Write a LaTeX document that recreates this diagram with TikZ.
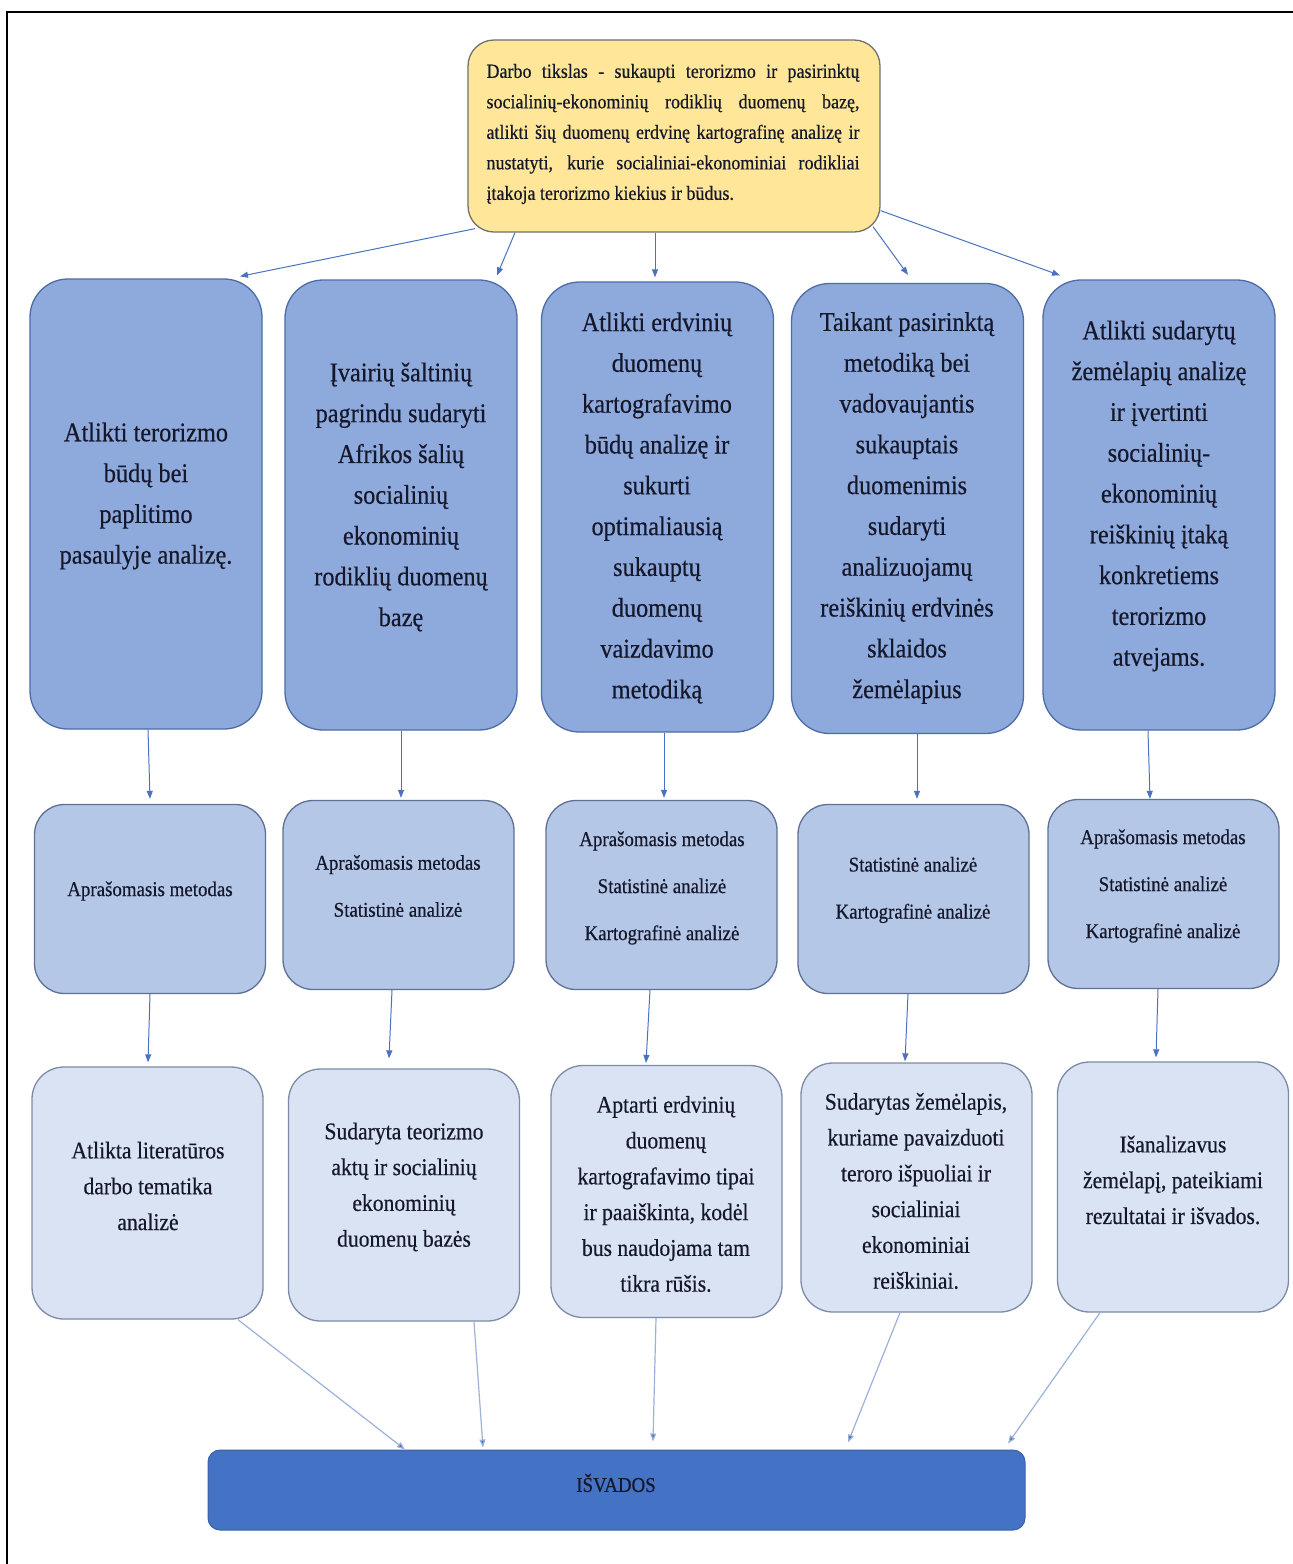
\documentclass[tikz,border=0pt]{standalone}
\usepackage{fontspec}
\setmainfont{Liberation Serif}[FakeStretch=0.9,FakeBold=0.4]
\usetikzlibrary{arrows.meta}
\definecolor{topfill}{HTML}{FFE699}
\definecolor{topdraw}{HTML}{707070}
\definecolor{onefill}{HTML}{8EA9DB}
\definecolor{onedraw}{HTML}{4E6CA8}
\definecolor{twofill}{HTML}{B4C7E7}
\definecolor{twodraw}{HTML}{5E7096}
\definecolor{threefill}{HTML}{DAE3F3}
\definecolor{threedraw}{HTML}{7E8BA7}
\definecolor{endfill}{HTML}{4472C4}
\definecolor{arrowc}{HTML}{4A72C0}
\definecolor{lightarrow}{HTML}{9DB1DA}
\definecolor{inkc}{HTML}{15172A}
\begin{document}
\begin{tikzpicture}[x=1pt,y=-1pt,
  goalbox/.style={draw=topdraw, fill=topfill, line width=1.3pt, rounded corners=26pt, minimum width=412pt, minimum height=192pt, inner sep=0pt},
  onebox/.style={draw=onedraw, fill=onefill, line width=1.3pt, rounded corners=38pt, minimum width=232pt, minimum height=450pt, inner sep=0pt},
  twobox/.style={draw=twodraw, fill=twofill, line width=1.3pt, rounded corners=30pt, minimum width=231pt, minimum height=189pt, inner sep=0pt},
  threebox/.style={draw=threedraw, fill=threefill, line width=1.3pt, rounded corners=32pt, minimum width=231pt, minimum height=252pt, inner sep=0pt},
  endbox/.style={draw=endfill!85!black, fill=endfill, line width=1pt, rounded corners=12pt, minimum width=817pt, minimum height=80pt, inner sep=0pt},
  onetext/.style={align=center, text=inkc, font=\fontsize{27}{40.8}\selectfont, inner sep=0pt},
  twotext/.style={align=center, text=inkc, font=\fontsize{21}{47}\selectfont, inner sep=0pt},
  threetext/.style={align=center, text=inkc, font=\fontsize{24}{35.8}\selectfont, inner sep=0pt},
  arr/.style={draw=arrowc, line width=1pt, -{Triangle[length=8pt,width=6pt]}},
  larr/.style={draw=lightarrow, line width=1.2pt, -{Triangle[length=8pt,width=6pt,fill=arrowc]}}
]
\useasboundingbox (0,0) rectangle (1293,1564);
\fill[white] (0,0) rectangle (1293,1564);
\draw[line width=2pt, black] (7,1564) -- (7,12) -- (1293,12);

% goal
\node[goalbox] (goal) at (674,136) {};
\node[text width=373pt, align=justify, text=inkc, font=\fontsize{20}{30.5}\selectfont, inner sep=0pt] (goaltext) at (673,134)
 {Darbo tikslas - sukaupti terorizmo ir pasirinktų\linebreak
  socialinių-ekonominių rodiklių duomenų bazę,\linebreak
  atlikti šių duomenų erdvinę kartografinę analizę ir\linebreak
  nustatyti, kurie socialiniai-ekonominiai rodikliai\linebreak
  įtakoja terorizmo kiekius ir būdus.};

% row 1
\node[onebox] (b1) at (146,504) {};
\node[onebox] (b2) at (401,505) {};
\node[onebox] (b3) at (657.5,507) {};
\node[onebox] (b4) at (907.5,508.5) {};
\node[onebox] (b5) at (1159,505) {};
\node[onetext] (b1t) at (146,496) {Atlikti terorizmo\\būdų bei\\paplitimo\\pasaulyje analizę.};
\node[onetext] (b2t) at (401,497) {Įvairių šaltinių\\pagrindu sudaryti\\Afrikos šalių\\socialinių\\ekonominių\\rodiklių duomenų\\bazę};
\node[onetext] (b3t) at (657,508) {Atlikti erdvinių\\duomenų\\kartografavimo\\būdų analizę ir\\sukurti\\optimaliausią\\sukauptų\\duomenų\\vaizdavimo\\metodiką};
\node[onetext] (b4t) at (907,508) {Taikant pasirinktą\\metodiką bei\\vadovaujantis\\sukauptais\\duomenimis\\sudaryti\\analizuojamų\\reiškinių erdvinės\\sklaidos\\žemėlapius};
\node[onetext] (b5t) at (1159,496) {Atlikti sudarytų\\žemėlapių analizę\\ir įvertinti\\socialinių-\\ekonominių\\reiškinių įtaką\\konkretiems\\terorizmo\\atvejams.};

% row 2
\node[twobox] (m1) at (150,899) {};
\node[twobox] (m2) at (398.5,895) {};
\node[twobox] (m3) at (661.5,895) {};
\node[twobox] (m4) at (913.5,899) {};
\node[twobox] (m5) at (1163.5,894) {};
\node[twotext] (m1t) at (150,891) {Aprašomasis metodas};
\node[twotext] (m2t) at (398,886) {Aprašomasis metodas\\Statistinė analizė};
\node[twotext] (m3t) at (662,888) {Aprašomasis metodas\\Statistinė analizė\\Kartografinė analizė};
\node[twotext] (m4t) at (913,890) {Statistinė analizė\\Kartografinė analizė};
\node[twotext] (m5t) at (1163,886) {Aprašomasis metodas\\Statistinė analizė\\Kartografinė analizė};

% row 3
\node[threebox] (r1) at (147.5,1193) {};
\node[threebox] (r2) at (404,1195) {};
\node[threebox] (r3) at (666.5,1191.5) {};
\node[threebox, minimum height=249pt] (r4) at (916.5,1187.5) {};
\node[threebox, minimum height=250pt] (r5) at (1173,1187) {};
\node[threetext] (r1t) at (148,1186) {Atlikta literatūros\\darbo tematika\\analizė};
\node[threetext] (r2t) at (404,1187) {Sudaryta teorizmo\\aktų ir socialinių\\ekonominių\\duomenų bazės};
\node[threetext] (r3t) at (666,1194) {Aptarti erdvinių\\duomenų\\kartografavimo tipai\\ir paaiškinta, kodėl\\bus naudojama tam\\tikra rūšis.};
\node[threetext] (r4t) at (916,1191) {Sudarytas žemėlapis,\\kuriame pavaizduoti\\teroro išpuoliai ir\\socialiniai\\ekonominiai\\reiškiniai.};
\node[threetext] (r5t) at (1173,1180) {Išanalizavus\\žemėlapį, pateikiami\\rezultatai ir išvados.};

% conclusion
\node[endbox] (fin) at (616.5,1490) {};
\node[text=inkc, font=\fontsize{21}{25}\selectfont, inner sep=0pt] (fint) at (616,1483) {IŠVADOS};

% arrows: goal -> row 1
\draw[arr] ([xshift=-199pt,yshift=4pt]goal.south) -- ([xshift=94pt,yshift=2pt]b1.north);
\draw[arr] ([xshift=-159pt]goal.south) -- ([xshift=96pt,yshift=4pt]b2.north);
\draw[arr] ([xshift=-19pt]goal.south) -- ([xshift=-2.5pt,yshift=4pt]b3.north);
\draw[arr] ([xshift=199pt,yshift=6pt]goal.south) -- ([xshift=0.5pt,yshift=8pt]b4.north);
\draw[arr] ([yshift=22pt]goal.south east) -- ([xshift=-99pt,yshift=4pt]b5.north);

% row 1 -> row 2
\draw[arr] ([xshift=2pt]b1.south) -- ([yshift=5pt]m1.north);
\draw[arr] ([xshift=0pt]b2.south) -- ([xshift=2.5pt,yshift=2pt]m2.north);
\draw[arr] ([xshift=6.5pt]b3.south) -- ([xshift=2.5pt,yshift=2pt]m3.north);
\draw[arr] ([xshift=9.5pt]b4.south) -- ([xshift=3.5pt,yshift=5pt]m4.north);
\draw[arr] ([xshift=-11pt]b5.south) -- ([xshift=-13.5pt]m5.north);

% row 2 -> row 3
\draw[arr] (m1.south) -- ([xshift=0.5pt,yshift=4pt]r1.north);
\draw[arr] ([xshift=-6.5pt]m2.south) -- ([xshift=-15pt,yshift=10pt]r2.north);
\draw[arr] ([xshift=-11.5pt]m3.south) -- ([xshift=-20.5pt,yshift=2pt]r3.north);
\draw[arr] ([xshift=-5.5pt]m4.south) -- ([xshift=-11.5pt,yshift=1pt]r4.north);
\draw[arr] ([xshift=-5.5pt]m5.south) -- ([xshift=-17pt,yshift=4pt]r5.north);

% row 3 -> conclusion
\draw[larr] ([xshift=90.5pt]r1.south) -- ([xshift=-211.5pt]fin.north);
\draw[larr] ([xshift=70pt]r2.south) -- ([xshift=-133.5pt,yshift=2pt]fin.north);
\draw[larr] ([xshift=-10.5pt]r3.south) -- ([xshift=36.5pt,yshift=8pt]fin.north);
\draw[larr] ([xshift=-16.5pt]r4.south) -- ([xshift=231.5pt,yshift=7pt]fin.north);
\draw[larr] ([xshift=-73pt]r5.south) -- ([xshift=391.5pt,yshift=6pt]fin.north);
\end{tikzpicture}
\end{document}
